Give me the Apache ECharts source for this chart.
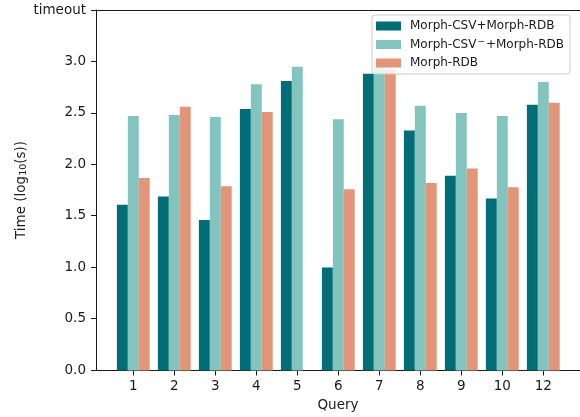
<!DOCTYPE html>
<html>
<head>
<meta charset="utf-8">
<script src="https://cdn.jsdelivr.net/npm/echarts@6/dist/echarts.min.js"></script>
<style>
  html, body { margin: 0; padding: 0; background: #fff; }
  #chart { width: 580px; height: 417px; }
</style>
</head>
<body>
<div id="chart"></div>
<script>
// Query ids on the x axis
var queries = ['1', '2', '3', '4', '5', '6', '7', '8', '9', '10', '12'];

// Execution time per query, log10(seconds); null = no result
var csvRdb      = [1.61, 1.69, 1.46, 2.54, 2.81, 1.00, 2.88, 2.33, 1.89, 1.67, 2.58];
var csvMinusRdb = [2.47, 2.48, 2.46, 2.78, 2.95, 2.44, 3.01, 2.57, 2.50, 2.47, 2.80];
var rdbOnly     = [1.87, 2.56, 1.79, 2.51, null, 1.76, 2.92, 1.82, 1.96, 1.78, 2.60];

var seriesNames = ['Morph-CSV+Morph-RDB', 'Morph-CSV-+Morph-RDB', 'Morph-RDB'];
// legend text for each series (rich text for the superscript minus)
var legendText = {
  'Morph-CSV+Morph-RDB': '{a|Morph-CSV+Morph-RDB}',
  'Morph-CSV-+Morph-RDB': '{a|Morph-CSV}{sup|\u2212}{a|+Morph-RDB}',
  'Morph-RDB': '{a|Morph-RDB}'
};
var seriesColors = ['#006d77', '#83c5be', '#e29578'];

// y axis runs up to the timeout limit
var yMin = 0, yMax = 3.5, yStep = 0.5;

var font = 'DejaVu Sans';
var ink = '#1a1a1a';
var fs = 13.5;

var chart = echarts.init(document.getElementById('chart'), null, { renderer: 'canvas' });

function barSeries(i, values) {
  return {
    name: seriesNames[i],
    type: 'bar',
    xAxisIndex: 2,
    yAxisIndex: 1,
    data: values,
    barWidth: '26.67%',
    barGap: '0%',
    itemStyle: { color: seriesColors[i] },
    emphasis: { disabled: true },
    animation: false
  };
}

var option = {
  animation: false,
  textStyle: { fontFamily: font },
  grid: [
    // frame: spines, y ticks, axis titles
    { left: 96, top: 10, right: -1, bottom: 46.5, containLabel: false },
    // bar area: category bands sized to the tick spacing
    { left: 112.8, top: 10, width: 451, bottom: 46.5, containLabel: false }
  ],
  xAxis: [
    {
      gridIndex: 0, type: 'value', min: 0, max: 1, position: 'bottom',
      axisLine: { show: true, lineStyle: { color: ink, width: 1 } },
      axisTick: { show: false }, axisLabel: { show: false }, splitLine: { show: false },
      name: 'Query', nameLocation: 'middle', nameGap: 28,
      nameTextStyle: { fontFamily: font, fontSize: fs, color: ink }
    },
    {
      gridIndex: 0, type: 'value', min: 0, max: 1, position: 'top',
      axisLine: { show: true, lineStyle: { color: ink, width: 1 } },
      axisTick: { show: false }, axisLabel: { show: false }, splitLine: { show: false }
    },
    {
      gridIndex: 1, type: 'category', data: queries, boundaryGap: true,
      axisLine: { show: false },
      axisTick: { show: true, alignWithLabel: true, length: 5, lineStyle: { color: ink, width: 1 } },
      axisLabel: { fontFamily: font, fontSize: fs, color: ink, margin: 9 },
      splitLine: { show: false }
    }
  ],
  yAxis: [
    {
      gridIndex: 0, type: 'value', min: yMin, max: yMax, interval: yStep,
      axisLine: { show: true, lineStyle: { color: ink, width: 1 } },
      axisTick: { show: true, length: 5, lineStyle: { color: ink, width: 1 } },
      axisLabel: {
        fontFamily: font, fontSize: fs, color: ink, margin: 10,
        formatter: function (v) { return v >= yMax ? 'timeout' : v.toFixed(1); }
      },
      splitLine: { show: false },
      name: '{t|Time (log}{s|10}{t|(s))}',
      nameLocation: 'middle', nameGap: 67,
      nameMoveOverlap: false,
      nameTextStyle: {
        rich: {
          t: { fontFamily: font, fontSize: fs, color: ink, lineHeight: 16 },
          s: { fontFamily: font, fontSize: 9.5, color: ink, lineHeight: 16, verticalAlign: 'bottom', padding: [5, 0, 0, 0] }
        }
      }
    },
    {
      gridIndex: 1, type: 'value', min: yMin, max: yMax, interval: yStep, show: false,
      splitLine: { show: false }
    }
  ],
  legend: {
    orient: 'vertical',
    left: 372, top: 15,
    padding: [4, 6, 4, 4],
    itemGap: 4.5,
    itemWidth: 25, itemHeight: 9,
    icon: 'rect',
    backgroundColor: 'rgba(255,255,255,0.8)',
    borderColor: '#cccccc', borderWidth: 1, borderRadius: 3,
    formatter: function (name) { return legendText[name]; },
    textStyle: {
      fontFamily: font, fontSize: 12, color: ink, lineHeight: 14, padding: [0, 0, 0, 4],
      rich: {
        a: { fontFamily: font, fontSize: 12, color: ink, lineHeight: 14 },
        sup: { fontFamily: font, fontSize: 9, color: ink, lineHeight: 9, verticalAlign: 'top', padding: [0, 1, 0, 1] }
      }
    },
    data: seriesNames,
    selectedMode: false,
    z: 10
  },
  series: [
    barSeries(0, csvRdb),
    barSeries(1, csvMinusRdb),
    barSeries(2, rdbOnly)
  ]
};

chart.setOption(option);
</script>
</body>
</html>
